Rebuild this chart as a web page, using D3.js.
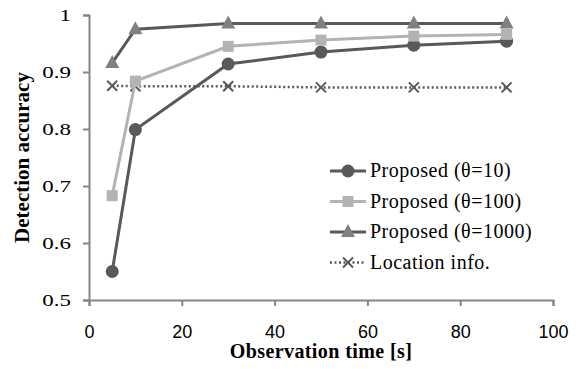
<!DOCTYPE html>
<html>
<head>
<meta charset="utf-8">
<script src="https://d3js.org/d3.v7.min.js"></script>
<style>
  body { margin: 0; background: #fff; }
</style>
</head>
<body>
<div id="chart"></div>
<script>
// data
var times = [5, 10, 30, 50, 70, 90];
var theta10 = [0.550, 0.799, 0.914, 0.935, 0.947, 0.954];
var theta100 = [0.683, 0.884, 0.945, 0.956, 0.963, 0.966];
var theta1000 = [0.916, 0.975, 0.985, 0.985, 0.985, 0.985];
var locationInfo = [0.876, 0.875, 0.875, 0.873, 0.873, 0.873];
var seriesNames = ["Proposed (θ=10)", "Proposed (θ=100)", "Proposed (θ=1000)", "Location info."];
var xTicks = [0, 20, 40, 60, 80, 100];
var yTicks = [0.5, 0.6, 0.7, 0.8, 0.9, 1];

var W = 581, H = 369;
var margin = { top: 15, right: 28, bottom: 69, left: 89 };
var width = W - margin.left - margin.right,
    height = H - margin.top - margin.bottom;
var serif = "'Liberation Serif', 'Times New Roman', serif";

var svg = d3.select("#chart").append("svg")
    .attr("width", W).attr("height", H);
var g = svg.append("g")
    .attr("transform", "translate(" + margin.left + "," + margin.top + ")");

var x = d3.scaleLinear().domain([0, 100]).range([0, width]);
var y = d3.scaleLinear().domain([0.5, 1]).range([height, 0]);

// axes
var xAxis = g.append("g")
    .attr("transform", "translate(0," + height + ")")
    .call(d3.axisBottom(x).tickValues(xTicks).tickSize(6).tickPadding(19).tickFormat(d3.format("d")));
xAxis.selectAll("text")
    .style("font-family", "'Liberation Sans', Arial, sans-serif")
    .style("font-size", "18px").attr("fill", "#000");

var yAxis = g.append("g")
    .call(d3.axisLeft(y).tickValues(yTicks).tickSize(6).tickFormat(function (d) { return d === 1 ? "1" : d3.format(".1f")(d); }));
// the tick labels in the picture are wide, stretch them sideways
yAxis.selectAll("text")
    .attr("x", 0)
    .attr("transform", "translate(-18,0) scale(1.35,1)")
    .style("font-family", serif)
    .style("font-size", "17px").attr("fill", "#000");

[xAxis, yAxis].forEach(function (a) {
    a.select(".domain").attr("stroke", "#868686").attr("stroke-width", 2);
    a.selectAll(".tick line").attr("stroke", "#868686").attr("stroke-width", 2);
});

// axis titles
g.append("text")
    .attr("x", width / 2).attr("y", height + 58)
    .attr("text-anchor", "middle")
    .style("font-family", serif)
    .style("font-size", "20px").style("font-weight", "bold")
    .style("letter-spacing", "0.4px")
    .text("Observation time [s]");

g.append("text")
    .attr("transform", "rotate(-90)")
    .attr("x", -height / 2).attr("y", -margin.left + 29)
    .attr("text-anchor", "middle")
    .style("font-family", serif)
    .style("font-size", "21px").style("font-weight", "bold")
    .text("Detection accuracy");

var series = [
    { name: seriesNames[0], values: theta10, line: "#595959", fill: "#595959", marker: "circle", dash: null },
    { name: seriesNames[1], values: theta100, line: "#b3b3b3", fill: "#b3b3b3", marker: "square", dash: null },
    { name: seriesNames[2], values: theta1000, line: "#595959", fill: "#808080", marker: "triangle", dash: null },
    { name: seriesNames[3], values: locationInfo, line: "#595959", fill: "#595959", marker: "cross", dash: "2,2.5" }
];

var line = d3.line()
    .x(function (d, i) { return x(times[i]); })
    .y(function (d) { return y(d); });

function drawMarker(sel, s, cx, cy) {
    if (s.marker === "circle") {
        sel.append("circle").attr("cx", cx).attr("cy", cy).attr("r", 6.5).attr("fill", s.fill);
    } else if (s.marker === "square") {
        sel.append("rect").attr("x", cx - 5.5).attr("y", cy - 5.5).attr("width", 11).attr("height", 11).attr("fill", s.fill);
    } else if (s.marker === "triangle") {
        sel.append("path").attr("d", "M" + cx + "," + (cy - 8) + "L" + (cx + 7) + "," + (cy + 5) + "L" + (cx - 7) + "," + (cy + 5) + "Z").attr("fill", s.fill);
    } else {
        sel.append("path").attr("d", "M" + (cx - 5) + "," + (cy - 5) + "L" + (cx + 5) + "," + (cy + 5) + "M" + (cx + 5) + "," + (cy - 5) + "L" + (cx - 5) + "," + (cy + 5))
            .attr("stroke", s.fill).attr("stroke-width", 2).attr("fill", "none");
    }
}

// draw order: location first, then proposed lines
[3, 0, 1, 2].forEach(function (k) {
    var s = series[k];
    var sg = g.append("g");
    sg.append("path").datum(s.values)
        .attr("d", line).attr("fill", "none")
        .attr("stroke", s.line).attr("stroke-width", s.dash ? 2.5 : 3)
        .attr("stroke-dasharray", s.dash);
    s.values.forEach(function (v, i) { drawMarker(sg, s, x(times[i]), y(v)); });
});

// legend
var legend = svg.append("g").attr("transform", "translate(330,171)");
series.forEach(function (s, i) {
    var lg = legend.append("g").attr("transform", "translate(0," + (i * 30.5) + ")");
    lg.append("line").attr("x1", 0).attr("x2", 36).attr("y1", 0).attr("y2", 0)
        .attr("stroke", s.line).attr("stroke-width", s.dash ? 2.5 : 3)
        .attr("stroke-dasharray", s.dash);
    drawMarker(lg, s, 18, 0);
    lg.append("text").attr("x", 40).attr("y", 6)
        .style("font-family", serif)
        .style("font-size", "20px")
        .style("letter-spacing", "0.5px")
        .text(s.name);
});
</script>
</body>
</html>
